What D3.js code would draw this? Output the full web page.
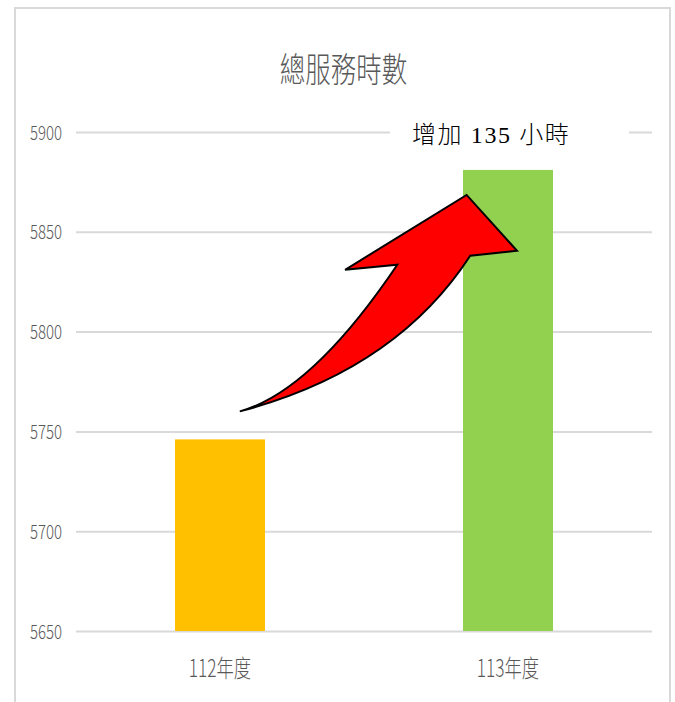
<!DOCTYPE html>
<html>
<head>
<meta charset="utf-8">
<script src="https://cdn.jsdelivr.net/npm/d3@7"></script>
<style>
  body { margin: 0; background: #fff; }
</style>
</head>
<body>
<div id="chart"></div>
<script>
const categories = ["112年度", "113年度"];
const hours = [5746, 5881];
const barColors = ["#FFC000", "#92D050"];
const yTicks = [5650, 5700, 5750, 5800, 5850, 5900];
const title = "總服務時數";
const note = "增加 135 小時";

const W = 675, H = 702;
const margin = {top: 132, right: 23, bottom: 71, left: 76};
const width = W - margin.left - margin.right;
const height = H - margin.top - margin.bottom;
const labelFont = "'Noto Sans CJK TC', 'Noto Sans', sans-serif";

const svg = d3.select("#chart").append("svg")
    .attr("width", W)
    .attr("height", H);

// outer frame
svg.append("rect")
    .attr("x", 15).attr("y", 8)
    .attr("width", 655).attr("height", 720)
    .attr("fill", "#fff")
    .attr("stroke", "#D9D9D9")
    .attr("stroke-width", 2);

const g = svg.append("g")
    .attr("transform", `translate(${margin.left},${margin.top})`);

const x = d3.scaleBand()
    .domain(categories)
    .range([0, width])
    .paddingInner(0.6875)
    .paddingOuter(0.34375);

const y = d3.scaleLinear()
    .domain([5650, 5900])
    .range([height, 0]);

// gridlines
g.append("g")
    .attr("class", "grid")
    .call(d3.axisLeft(y).tickValues(yTicks).tickSize(-width).tickFormat(""))
    .call(s => s.select(".domain").remove())
    .call(s => s.selectAll("line").attr("stroke", "#D9D9D9").attr("stroke-width", 2));

// y labels
g.append("g")
    .attr("class", "y axis")
    .call(d3.axisLeft(y).tickValues(yTicks).tickSize(0).tickPadding(0).tickFormat(d3.format("d")))
    .call(s => s.select(".domain").remove())
    .call(s => s.selectAll("text")
        .attr("x", 0).attr("dy", null)
        .attr("transform", "translate(-14,7) scale(0.75,1)")
        .attr("fill", "#595959")
        .style("font-family", labelFont)
        .style("font-size", "20px")
        .style("font-weight", 300));

// bars
g.selectAll(".bar")
    .data(hours)
    .enter()
    .append("rect")
    .attr("class", "bar")
    .attr("x", (d, i) => x(categories[i]))
    .attr("y", d => y(d))
    .attr("width", x.bandwidth())
    .attr("height", d => height - y(d))
    .attr("fill", (d, i) => barColors[i]);

// x labels
g.append("g")
    .attr("class", "x axis")
    .attr("transform", `translate(0,${height})`)
    .call(d3.axisBottom(x).tickSize(0).tickPadding(0))
    .call(s => s.select(".domain").remove())
    .call(s => s.selectAll("text")
        .attr("y", 0).attr("dy", null)
        .attr("transform", "translate(0,46) scale(0.72,1)")
        .attr("fill", "#595959")
        .style("font-family", labelFont)
        .style("font-size", "24px")
        .style("font-weight", 300));

// title
svg.append("text")
    .attr("transform", `translate(${W / 2 + 6},82) scale(0.75,1)`)
    .attr("text-anchor", "middle")
    .attr("fill", "#595959")
    .style("font-family", labelFont)
    .style("font-size", "34px")
    .style("font-weight", 300)
    .text(title);

// arrow from the 112 bar up to the 113 bar
const x0 = x(categories[0]), x1 = x(categories[1]), bw = x.bandwidth();
const tail = [x0 + bw * 0.72, y(hours[0]) - 28];
const arrow = d3.path();
arrow.moveTo(tail[0], tail[1]);
arrow.quadraticCurveTo(x0 + bw * 1.52, y(5800) + 60, x1 - bw * 0.73, y(5850) + 33);
arrow.lineTo(x1 - bw * 1.31, y(5850) + 38);
arrow.lineTo(x1 + bw * 0.04, y(hours[1]) + 25);
arrow.lineTo(x1 + bw * 0.6, y(5850) + 19);
arrow.lineTo(x1 + bw * 0.08, y(5850) + 24);
arrow.quadraticCurveTo(x1 - bw * 0.75, y(5800) + 39, tail[0], tail[1]);
arrow.closePath();

g.append("path")
    .attr("d", arrow.toString())
    .attr("fill", "#FF0000")
    .attr("stroke", "#000")
    .attr("stroke-width", 2)
    .attr("stroke-linejoin", "miter");

// annotation label with white backing
svg.append("rect")
    .attr("x", 390).attr("y", 112)
    .attr("width", 239).attr("height", 40)
    .attr("fill", "#fff");

svg.append("text")
    .attr("x", 412).attr("y", 143)
    .attr("fill", "#000")
    .style("font-family", "'Liberation Serif', 'Noto Sans CJK TC', serif")
    .style("font-size", "24px")
    .style("font-weight", 300)
    .style("letter-spacing", "1.6px")
    .text(note);
</script>
</body>
</html>
